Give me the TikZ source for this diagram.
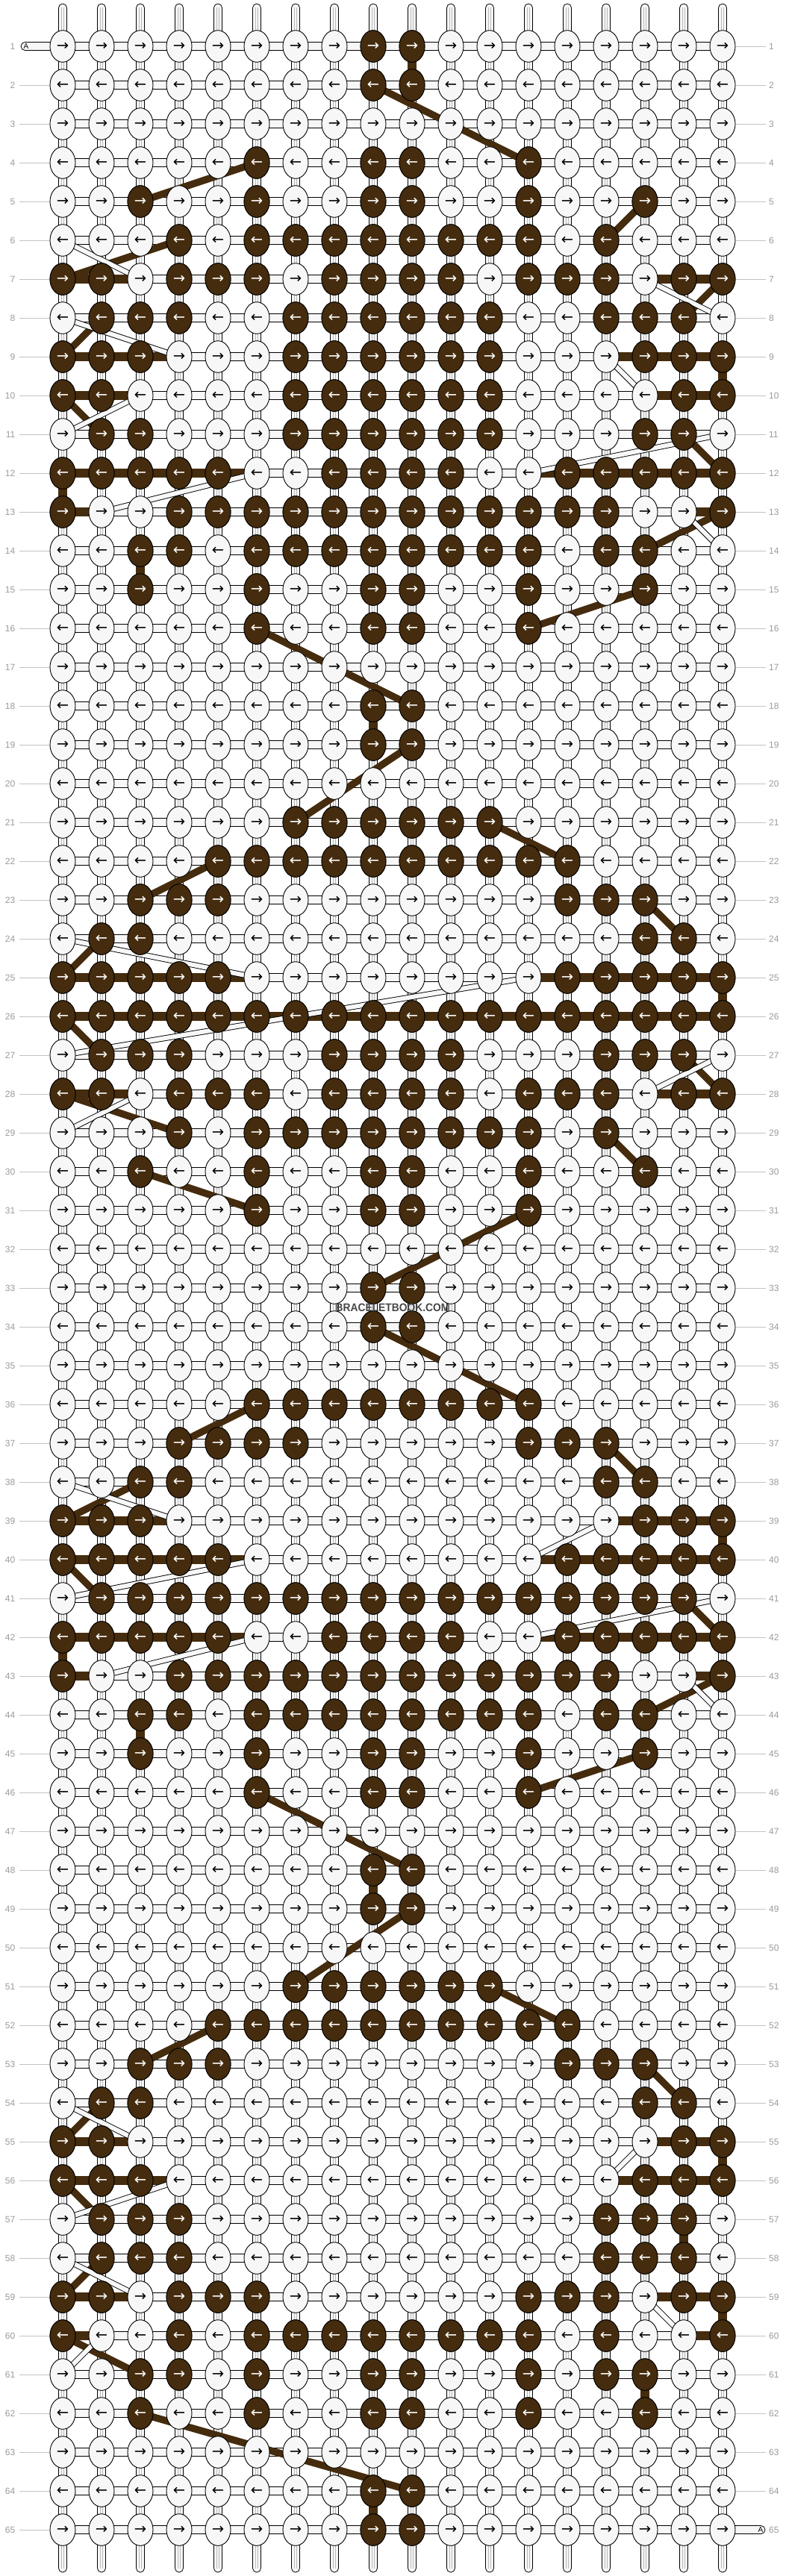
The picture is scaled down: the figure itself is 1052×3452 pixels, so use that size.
\documentclass[tikz,border=0pt]{standalone}
\usepackage{fontspec}
\setmainfont{Liberation Sans}
\newfontfamily\arrowfont{DejaVu Sans}
\usetikzlibrary{shapes.geometric}
\definecolor{brn}{RGB}{69,44,14}
\definecolor{lite}{RGB}{247,247,247}
\definecolor{numgray}{RGB}{155,155,155}
\definecolor{linegray}{RGB}{195,195,195}
\definecolor{tubeline}{RGB}{185,185,185}
\begin{document}
\begin{tikzpicture}[x=1pt,y=-1pt,
  tube/.style={draw=black,fill=lite,line width=0.8pt},
  knotlite/.style={ellipse,draw=black,fill=lite,line width=0.9pt,minimum width=34pt,minimum height=42.6pt,inner sep=0pt,text=black,font=\arrowfont\fontsize{19.5}{19.5}\selectfont},
  knotbrown/.style={knotlite,fill=brn,text=white},
  brownline/.style={draw=brn,line width=9.5pt},
  whiteline/.style={draw=black,double=lite,double distance=6pt,line width=0.9pt},
  rownum/.style={text=numgray,font=\fontsize{12}{12}\selectfont,inner sep=0pt},
  gline/.style={draw=linegray,line width=0.8pt},
]
\useasboundingbox (0,0) rectangle (1052,3452);
\fill[white] (0,0) rectangle (1052,3452);
% knot positions
\foreach \r in {1,...,65} {
  \foreach \c in {1,...,18} {
    \coordinate (p\r-\c) at ({32+52*\c},{10+52*\r});
  }
}
% vertical strands
\foreach \c in {1,...,18} {
  \coordinate (top\c) at ({32+52*\c},5);
  \coordinate (bot\c) at ({32+52*\c},3447);
  \draw[tube,rounded corners=5.5pt] ([xshift=-5.5pt]top\c) rectangle ([xshift=5.5pt]bot\c);
  \draw[tubeline,line width=0.5pt] ([xshift=-1.4pt,yshift=-5pt]top\c) -- ([xshift=-1.4pt,yshift=5pt]bot\c)
        ([xshift=1.4pt,yshift=-5pt]top\c) -- ([xshift=1.4pt,yshift=5pt]bot\c);
}
% horizontal strands
\foreach \r in {1,...,65} {
  \draw[tube] ([yshift=5.5pt]p\r-1) rectangle ([yshift=-5.5pt]p\r-18);
}
% A strands
\coordinate (aleft) at (28,62);
\coordinate (aright) at (1025,3390);
\draw[tube,rounded corners=5.5pt] ([yshift=5.5pt]aleft) rectangle ([xshift=6pt,yshift=-5.5pt]p1-1);
\draw[tube,rounded corners=5.5pt] ([xshift=-6pt,yshift=5.5pt]p65-18) rectangle ([yshift=-5.5pt]aright);
\node[font=\fontsize{10}{10}\selectfont,inner sep=0pt] (albl) at (35,62) {A};
\node[font=\fontsize{10}{10}\selectfont,inner sep=0pt] (arbl) at (1019,3390) {A};
% row numbers and guide lines
\foreach \r in {1,...,65} {
  \node[rownum,anchor=east] (nl\r) at (20.5,{10+52*\r}) {\r};
  \node[rownum,anchor=west] (nr\r) at (1030,{10+52*\r}) {\r};
}
\foreach \r in {2,...,65} \draw[gline] (26,{10+52*\r}) -- ([xshift=-17pt]p\r-1);
\foreach \r in {1,...,64} \draw[gline] ([xshift=17pt]p\r-18) -- (1026,{10+52*\r});
% brown horizontal connectors
\foreach \r/\cs in {7/{1,2,16,17}, 9/{1,2,3,15,16,17}, 10/{1,2,16,17},
  12/{1,2,3,4,5,13,14,15,16,17}, 13/{1,17}, 25/{1,2,3,4,5,13,14,15,16,17},
  26/{1,2,3,4,5,6,7,8,9,10,11,12,13,14,15,16,17}, 28/{1,2,16,17},
  39/{1,2,3,15,16,17}, 40/{1,2,3,4,5,13,14,15,16,17}, 42/{1,2,3,4,5,13,14,15,16,17},
  43/{1,17}, 55/{1,2,16,17}, 56/{1,2,3,15,16,17}, 59/{1,2,16,17}, 60/{1,17}} {
  \foreach \c in \cs {
    \pgfmathtruncatemacro\cn{\c+1}
    \fill[brn] ([yshift=-5.8pt]p\r-\c) rectangle ([yshift=5.8pt]p\r-\cn);
  }
}
% brown vertical connectors
\foreach \r/\c in {1/10, 9/18, 12/1, 14/3, 18/9, 25/18, 39/18, 42/1, 44/3, 48/9, 55/18, 57/17, 59/18, 61/16, 64/9} {
  \pgfmathtruncatemacro\rn{\r+1}
  \fill[brn] ([xshift=-5.8pt]p\r-\c) rectangle ([xshift=5.8pt]p\rn-\c);
}
% brown diagonal strands
\foreach \ca/\ra/\cb/\rb in {9/2/13/4, 3/5/6/4, 1/7/4/6, 15/6/16/5, 18/7/17/8, 2/8/1/9,
  1/10/2/11, 17/11/18/12, 16/14/18/13, 16/15/13/16, 6/16/10/18, 10/19/7/21, 12/21/14/22,
  5/22/3/23, 16/23/17/24, 1/25/2/24, 1/26/2/27, 17/27/18/28, 1/28/4/29, 15/29/16/30,
  3/30/6/31, 13/31/9/33, 9/34/13/36, 4/37/6/36, 15/37/16/38, 1/39/3/38, 1/40/2/41,
  17/41/18/42, 16/44/18/43, 16/45/13/46, 6/46/10/48, 10/49/7/51, 12/51/14/52, 5/52/3/53,
  16/53/17/54, 1/55/2/54, 1/56/2/57, 1/59/2/58, 1/60/3/61, 3/62/10/64} {
  \draw[brownline] (p\ra-\ca) -- (p\rb-\cb);
}
% light diagonal strands
\foreach \ca/\ra/\cb/\rb in {1/6/3/7, 16/7/18/8, 1/8/4/9, 15/9/16/10, 1/11/3/10, 13/12/18/11,
  2/13/6/12, 17/13/18/14, 1/24/6/25, 13/25/1/27, 16/28/18/27, 1/29/3/28, 1/38/4/39,
  13/40/15/39, 1/41/6/40, 13/42/18/41, 2/43/6/42, 17/43/18/44, 1/54/3/55, 16/55/15/56,
  1/57/4/56, 1/58/3/59, 16/59/17/60, 1/61/2/60} {
  \draw[whiteline] (p\ra-\ca) -- (p\rb-\cb);
}
% knots: light
\foreach \r in {1,...,65} {
  \ifodd\r \def\arr{→}\else \def\arr{←}\fi
  \foreach \c in {1,...,18} \node[knotlite] (k\r-\c) at (p\r-\c) {\arr};
}
% knots: brown
\foreach \r/\cs in {1/{9,10}, 2/{9,10}, 4/{6,9,10,13}, 5/{3,6,9,10,13,16},
  6/{4,6,7,8,9,10,11,12,13,15},
  7/{1,2,4,5,6,8,9,10,11,13,14,15,17,18},
  8/{2,3,4,7,8,9,10,11,12,15,16,17},
  9/{1,2,3,7,8,9,10,11,12,16,17,18},
  10/{1,2,7,8,9,10,11,12,17,18},
  11/{2,3,7,8,9,10,11,12,16,17},
  12/{1,2,3,4,5,8,9,10,11,14,15,16,17,18},
  13/{1,4,5,6,7,8,9,10,11,12,13,14,15,18},
  14/{3,4,6,7,8,9,10,11,12,13,15,16},
  15/{3,6,9,10,13,16}, 16/{6,9,10,13}, 18/{9,10}, 19/{9,10},
  21/{7,8,9,10,11,12}, 22/{5,6,7,8,9,10,11,12,13,14},
  23/{3,4,5,14,15,16}, 24/{2,3,16,17},
  25/{1,2,3,4,5,14,15,16,17,18},
  26/{1,2,3,4,5,6,7,8,9,10,11,12,13,14,15,16,17,18},
  27/{2,3,4,8,9,10,11,15,16,17},
  28/{1,2,4,5,6,8,9,10,11,13,14,15,17,18},
  29/{4,6,7,8,9,10,11,12,13,15},
  30/{3,6,9,10,13,16}, 31/{6,9,10,13}, 33/{9,10}, 34/{9,10},
  36/{6,7,8,9,10,11,12,13}, 37/{4,5,6,7,13,14,15}, 38/{3,4,15,16},
  39/{1,2,3,16,17,18}, 40/{1,2,3,4,5,14,15,16,17,18},
  41/{2,3,4,5,6,7,8,9,10,11,12,13,14,15,16,17},
  42/{1,2,3,4,5,8,9,10,11,14,15,16,17,18},
  43/{1,4,5,6,7,8,9,10,11,12,13,14,15,18},
  44/{3,4,6,7,8,9,10,11,12,13,15,16},
  45/{3,6,9,10,13,16}, 46/{6,9,10,13}, 48/{9,10}, 49/{9,10},
  51/{7,8,9,10,11,12}, 52/{5,6,7,8,9,10,11,12,13,14},
  53/{3,4,5,14,15,16}, 54/{2,3,16,17}, 55/{1,2,17,18}, 56/{1,2,3,16,17,18},
  57/{2,3,4,15,16,17}, 58/{2,3,4,15,16,17},
  59/{1,2,4,5,6,13,14,15,17,18},
  60/{1,4,6,7,8,9,10,11,12,13,15,18},
  61/{3,4,6,9,10,13,15,16}, 62/{3,6,9,10,13,16}, 64/{9,10}, 65/{9,10}} {
  \ifodd\r \def\arr{→}\else \def\arr{←}\fi
  \foreach \c in \cs \node[knotbrown] (kb\r-\c) at (p\r-\c) {\arr};
}
% watermark
\node[font=\bfseries\fontsize{15}{15}\selectfont,text=black!72,xscale=0.92,inner sep=0pt] (wm) at (526,1752) {BRACELETBOOK.COM};
\end{tikzpicture}
\end{document}
